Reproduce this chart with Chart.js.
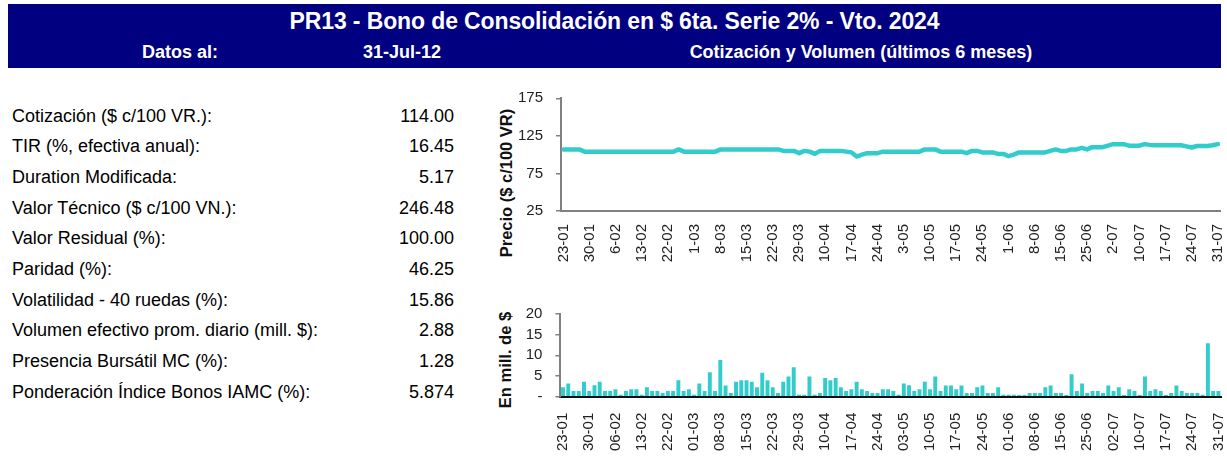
<!DOCTYPE html>
<html lang="es">
<head>
<meta charset="utf-8">
<title>PR13 - Bono de Consolidación en $ 6ta. Serie 2% - Vto. 2024</title>
<script src="https://cdn.jsdelivr.net/npm/chart.js@4.4.1/dist/chart.umd.min.js"></script>
<style>
  html, body { margin: 0; padding: 0; background: #fff; }
  body { position: relative; width: 1227px; height: 456px; overflow: hidden;
         font-family: "Liberation Sans", Arial, sans-serif; color: #000; }
  #cabecera { position: absolute; left: 8px; top: 4px; width: 1213px; height: 64px;
              background: #000080; color: #fff; font-weight: bold; }
  #titulo { position: absolute; left: 0; top: 1px; width: 100%; height: 32px; line-height: 32px;
            text-align: center; font-size: 23px; letter-spacing: -0.12px; }
  .sub { position: absolute; top: 33px; height: 31px; line-height: 31px; font-size: 18px;
         white-space: nowrap; transform: translateX(-50%); }
  .fila { position: absolute; left: 12px; width: 442px; height: 30px; line-height: 30px;
          font-size: 18px; white-space: nowrap; }
  .fila .v { position: absolute; right: 0; top: 0; }
  .eje { position: absolute; font-weight: bold; font-size: 16.5px; white-space: nowrap; color: #111;
         transform: translate(-50%, -50%) rotate(-90deg); }
  canvas { position: absolute; }
</style>
</head>
<body>
<div id="cabecera">
  <div id="titulo">PR13 - Bono de Consolidación en $ 6ta. Serie 2% - Vto. 2024</div>
  <div class="sub" style="left:172px">Datos al:</div>
  <div class="sub" style="left:394px">31-Jul-12</div>
  <div class="sub" style="left:853px">Cotización y Volumen (últimos 6 meses)</div>
</div>
<div id="tabla"></div>

<div class="eje" style="left:506px; top:183px">Precio ($ c/100 VR)</div>
<div class="eje" style="left:505px; top:360px">En mill. de $</div>

<canvas id="precio" width="757" height="185" style="left:470px; top:85px; width:757px; height:185px"></canvas>
<canvas id="volumen" width="757" height="156" style="left:470px; top:300px; width:757px; height:156px"></canvas>

<script>
// Ruedas operadas (dd-mm), 23-01-2012 a 31-07-2012
const fechas = [
  "23-01","24-01","25-01","26-01","27-01","30-01","31-01",
  "01-02","02-02","03-02","06-02","07-02","08-02","09-02","10-02","13-02","14-02","15-02","16-02","17-02",
  "22-02","23-02","24-02","28-02","29-02",
  "01-03","02-03","05-03","06-03","07-03","08-03","09-03","12-03","13-03","14-03","15-03","16-03",
  "19-03","20-03","21-03","22-03","23-03","26-03","27-03","28-03","29-03","30-03",
  "03-04","04-04","09-04","10-04","11-04","12-04","13-04","16-04","17-04","18-04","19-04","20-04",
  "23-04","24-04","25-04","26-04","27-04",
  "02-05","03-05","04-05","07-05","08-05","09-05","10-05","11-05","14-05","15-05","16-05","17-05",
  "18-05","21-05","22-05","23-05","24-05","28-05","29-05","30-05","31-05",
  "01-06","04-06","05-06","06-06","07-06","08-06","11-06","12-06","13-06","14-06","15-06","18-06",
  "19-06","21-06","22-06","25-06","26-06","27-06","28-06","29-06",
  "02-07","03-07","04-07","05-07","06-07","10-07","11-07","12-07","13-07","16-07","17-07","18-07",
  "19-07","20-07","23-07","24-07","25-07","26-07","27-07","30-07","31-07"
];

// Cotización ($ c/100 VR)
const precio = [
  107, 107, 107, 107, 104, 104, 104, 104, 104, 104,
  104, 104, 104, 104, 104, 104, 104, 104, 104, 104,
  104, 104, 107, 104, 104, 104, 104, 104, 104, 104,
  107, 107, 107, 107, 107, 107, 107, 107, 107, 107,
  107, 107, 105, 105, 105, 102, 105, 104, 101, 105,
  105, 105, 105, 105, 104, 103, 97.5, 100, 102, 102,
  102, 104, 104, 104, 104, 104, 104, 104, 104, 107,
  107, 107, 104, 104, 104, 104, 104, 102, 105, 105,
  103, 103, 103, 101, 101, 98, 100, 103, 103, 103,
  103, 103, 103, 105, 107, 105, 105, 107, 107, 109,
  107, 110, 110, 110, 112, 114, 114, 114, 112, 112,
  112, 114, 113, 112.5, 112.5, 112.5, 112.5, 112.5, 112.5, 111,
  109.5, 111.5, 111.5, 111.5, 112.5, 114
];

// Volumen efectivo diario (millones de $)
const volumen = [
  2.3, 3.2, 1.4, 1.4, 3.6, 1.4, 2.75, 3.6, 1.4, 1.4,
  1.8, 0.5, 1.4, 1.8, 1.8, 0.5, 2.3, 1.4, 1.4, 0.9,
  1.4, 1.4, 4.0, 1.4, 1.8, 0.5, 3.2, 1.4, 5.9, 1.4,
  8.9, 2.7, 0.9, 3.6, 4.0, 4.0, 3.6, 2.3, 5.8, 4.0,
  2.3, 0.9, 3.6, 4.9, 7.1, 0.5, 0.5, 4.9, 0.5, 0.9,
  4.5, 4.0, 4.5, 2.3, 1.4, 1.8, 3.6, 1.8, 1.4, 0.9,
  0.9, 1.8, 1.8, 1.4, 0.5, 3.2, 2.75, 1.4, 1.8, 3.6,
  1.8, 4.9, 1.4, 2.7, 2.7, 1.8, 2.7, 0.9, 0.9, 2.3,
  2.7, 0.9, 0.9, 2.3, 0.5, 0.5, 0.5, 0.4, 0.4, 0.9,
  0.9, 0.9, 2.3, 2.7, 0.9, 0.9, 0.4, 5.4, 1.4, 3.2,
  0.9, 1.4, 1.4, 0.9, 2.7, 1.4, 2.3, 0.4, 1.8, 1.4,
  0.4, 4.9, 1.4, 1.8, 1.4, 0.4, 0.9, 2.7, 1.4, 0.9,
  0.9, 0.9, 0.5, 12.9, 1.4, 1.4
];

// Ejes
const precioTicks = [25, 75, 125, 175];
const volumenTicks = [0, 5, 10, 15, 20];
const pasoEtiquetas = 5;

// Ficha técnica
const indicadores = [
  "Cotización ($ c/100 VR.):",
  "TIR (%, efectiva anual):",
  "Duration Modificada:",
  "Valor Técnico ($ c/100 VN.):",
  "Valor Residual (%):",
  "Paridad (%):",
  "Volatilidad - 40 ruedas (%):",
  "Volumen efectivo prom. diario (mill. $):",
  "Presencia Bursátil MC (%):",
  "Ponderación Índice Bonos IAMC (%):"
];
const valores = ["114.00", "16.45", "5.17", "246.48", "100.00", "46.25", "15.86", "2.88", "1.28", "5.874"];

const tabla = document.getElementById("tabla");
indicadores.forEach((txt, i) => {
  const fila = document.createElement("div");
  fila.className = "fila";
  fila.style.top = (100.7 + i * 30.67) + "px";
  fila.textContent = txt;
  const v = document.createElement("span");
  v.className = "v";
  v.textContent = valores[i];
  fila.appendChild(v);
  tabla.appendChild(fila);
});

const TURQUESA = "#33CCCC";
const fuenteTicks = { family: "'Liberation Sans', Arial, sans-serif", size: 15 };

// Fija el tamaño de cada eje y anula el margen extra que Chart.js reserva
// para la media altura de las etiquetas extremas.
function fijarX(alto) {
  return s => { s.height = alto; s.paddingLeft = 0; s.paddingRight = 0; };
}
function fijarY(ancho) {
  return s => { s.width = ancho; s.paddingTop = 0; s.paddingBottom = 0; };
}

function ejeX(padding, formato, bordeColor, alto) {
  return {
    offset: true,
    grid: { display: false, drawTicks: false },
    border: { display: true, color: bordeColor, width: 2 },
    ticks: {
      autoSkip: false, minRotation: 90, maxRotation: 90, padding: padding,
      color: "#222", font: fuenteTicks,
      callback: (v, i) => (i % pasoEtiquetas === 0 ? formato(fechas[i]) : "")
    },
    afterFit: fijarX(alto)
  };
}

function ejeY(marcas, ancho, formato) {
  return {
    min: marcas[0], max: marcas[marcas.length - 1],
    afterBuildTicks: s => { s.ticks = marcas.map(v => ({ value: v })); },
    grid: { drawOnChartArea: false, drawTicks: true, tickLength: 5, color: "#808080", lineWidth: 1.5 },
    border: { display: true, color: "#808080", width: 2 },
    ticks: { autoSkip: false, padding: 13, color: "#222", font: fuenteTicks, callback: formato },
    afterFit: fijarY(ancho)
  };
}

new Chart(document.getElementById("precio"), {
  type: "line",
  data: {
    labels: fechas,
    datasets: [{
      data: precio, borderColor: TURQUESA, borderWidth: 4.5, pointRadius: 0,
      tension: 0, fill: false, borderJoinStyle: "round", borderCapStyle: "round"
    }]
  },
  options: {
    responsive: false, animation: false, devicePixelRatio: 1,
    layout: { padding: { left: 0, right: 6.5, top: 13.3, bottom: 0 } },
    plugins: { legend: { display: false }, tooltip: { enabled: false } },
    scales: {
      x: ejeX(13, f => f.replace(/^0/, ""), "#808080", 59),
      y: ejeY(precioTicks, 91, v => v)
    }
  }
});

new Chart(document.getElementById("volumen"), {
  type: "bar",
  data: {
    labels: fechas,
    datasets: [{ data: volumen, backgroundColor: TURQUESA, barPercentage: 0.75, categoryPercentage: 1 }]
  },
  options: {
    responsive: false, animation: false, devicePixelRatio: 1,
    layout: { padding: { left: 0, right: 6, top: 14, bottom: 0 } },
    plugins: { legend: { display: false }, tooltip: { enabled: false } },
    scales: {
      x: ejeX(16, f => f, "#111", 59.3),
      y: ejeY(volumenTicks, 90.4, v => (v === 0 ? "-" : v))
    }
  }
});
</script>
</body>
</html>
